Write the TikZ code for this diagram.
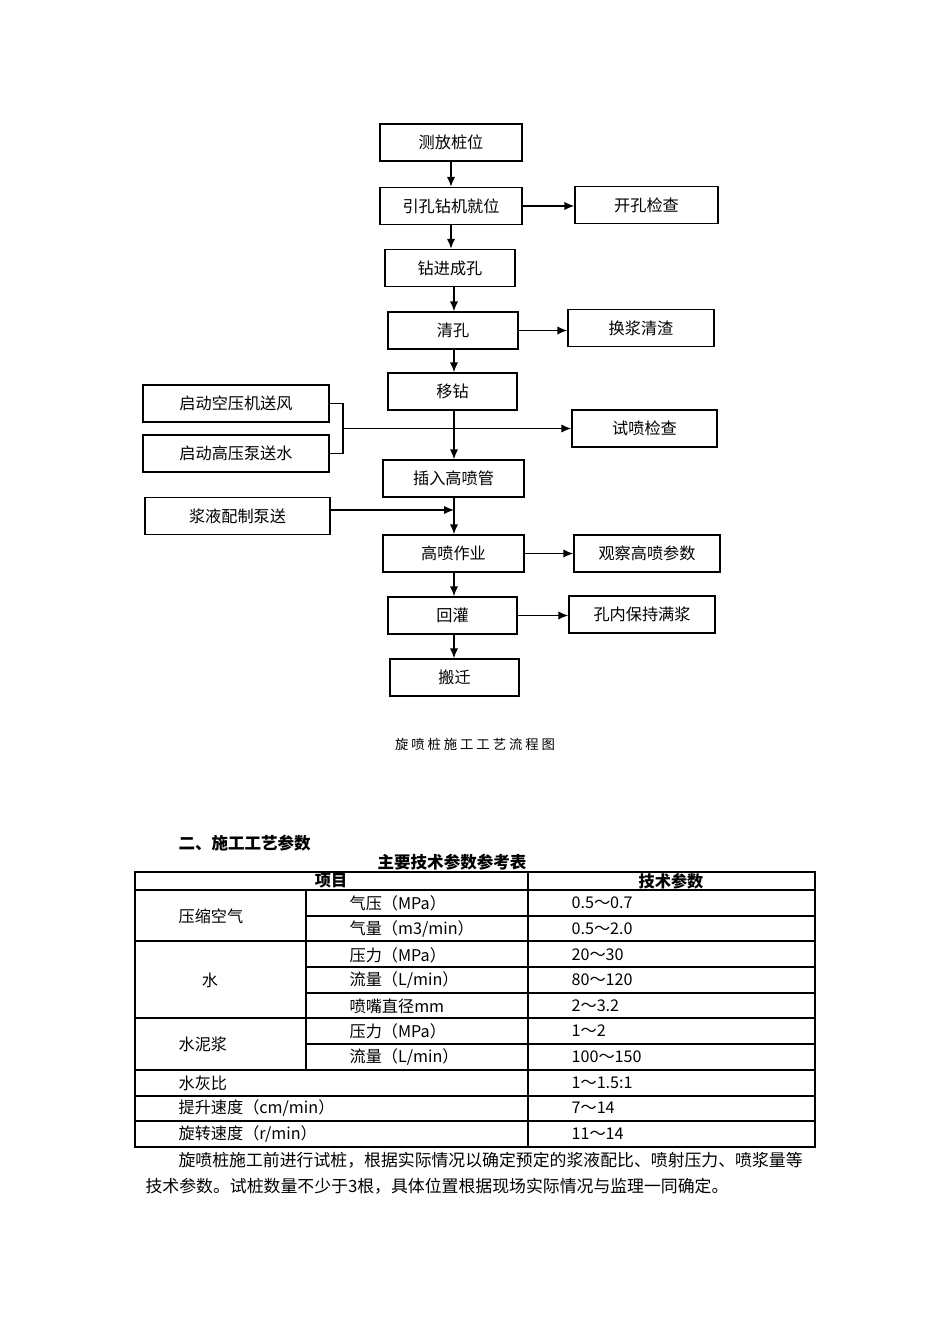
\documentclass[tikz,border=0pt]{standalone}
\usepackage{fontspec}
\setmainfont{Noto Sans CJK SC}
\newfontfamily\capfont[LetterSpace=22]{Noto Sans CJK SC}
\usetikzlibrary{positioning,arrows.meta}
\tikzset{
->, % makes the edges directed
>={Latex[length=5.6pt,width=4.6pt]}, % filled arrow heads
box/.style={draw, line width=0.8pt, inner sep=0pt, minimum height=0.74cm, font=\fontsize{9.2}{11}\selectfont}, % flow chart boxes
cell/.style={inner sep=0pt, anchor=west, font=\fontsize{9.2}{11}\selectfont}, % table texts
}

\begin{document}
\begin{tikzpicture}[-, x=0.02cm, y=-0.02cm, line width=0.7pt]
        \useasboundingbox (0,0) rectangle (950,1344);
        % main column
        \node[box, minimum width=2.84cm] at (451,142.5) (p1) {测放桩位};
        \node[box, minimum width=2.84cm] at (451,206) (p2) {引孔钻机就位};
        \node[box, minimum width=2.6cm] at (450,268) (p3) {钻进成孔};
        \node[box, minimum width=2.6cm] at (453,330.5) (p4) {清孔};
        \node[box, minimum width=2.58cm] at (452.5,391.5) (p5) {移钻};
        \node[box, minimum width=2.82cm] at (453.5,478.5) (p6) {插入高喷管};
        \node[box, minimum width=2.82cm] at (453.5,553.5) (p7) {高喷作业};
        \node[box, minimum width=2.58cm] at (452.5,615.5) (p8) {回灌};
        \node[box, minimum width=2.58cm] at (454.5,677.5) (p9) {搬迁};
        % right side
        \node[box, minimum width=2.86cm] at (646.5,205) (s1) {开孔检查};
        \node[box, minimum width=2.92cm] at (641,328) (s2) {换浆清渣};
        \node[box, minimum width=2.9cm] at (644.5,428.5) (s3) {试喷检查};
        \node[box, minimum width=2.92cm] at (647,553.5) (s4) {观察高喷参数};
        \node[box, minimum width=2.92cm] at (642,614.5) (s5) {孔内保持满浆};
        % left side
        \node[box, minimum width=3.72cm] at (236,403.5) (l1) {启动空压机送风};
        \node[box, minimum width=3.72cm] at (236,453.5) (l2) {启动高压泵送水};
        \node[box, minimum width=3.7cm] at (237.5,516) (l3) {浆液配制泵送};
        \coordinate (axis) at (454,0);
        \coordinate (brk) at (343,428.5);
        \coordinate (inj) at (454,510);
        \draw[->] (p1.south) -- (p1.south |- p2.north);
        \draw[->] (p2.south) -- (p2.south |- p3.north);
        \draw[->] (p3.south -| axis) -- (p4.north -| axis);
        \draw[->] (p4.south -| axis) -- (p5.north -| axis);
        \draw[->] (p5.south -| axis) -- (p6.north -| axis);
        \draw[->] (p6.south -| axis) -- (p7.north -| axis);
        \draw[->] (p7.south -| axis) -- (p8.north -| axis);
        \draw[->] (p8.south -| axis) -- (p9.north -| axis);
        \draw[->] (p2.east) -- (p2.east -| s1.west);
        \draw[->] (p4.east) -- (p4.east -| s2.west);
        \draw[->] (p7.east) -- (p7.east -| s4.west);
        \draw[->] (p8.east) -- (p8.east -| s5.west);
        \draw (l1.east) -| (brk) |- (l2.east);
        \draw[->] (brk) -- (s3.west);
        \draw[->] (l3.east |- inj) -- (inj);
        \node[font=\capfont\fontsize{7.6}{9}\selectfont] at (475,744) (cap) {旋喷桩施工工艺流程图};

        % parameters table
        \node[cell, font=\bfseries\fontsize{9.4}{11}\selectfont] at (178,843) (sec) {二、施工工艺参数};
        \node[inner sep=0pt, font=\bfseries\fontsize{9.4}{11}\selectfont] at (452,862) (ttl) {主要技术参数参考表};
        \begin{scope}[line width=0.6pt]
        \draw (135,872) rectangle (815,1147);
        \foreach \y in {890,941,1018,1070,1096,1121} \draw (135,\y) -- (815,\y);
        \foreach \y in {916,967,993,1044} \draw (306,\y) -- (815,\y);
        \draw (528,872) -- (528,1147);
        \draw (306,890) -- (306,1070);
        \end{scope}
        \node[inner sep=0pt, font=\bfseries\fontsize{9.2}{11}\selectfont] at (331,881) (h1) {项目};
        \node[inner sep=0pt, font=\bfseries\fontsize{9.2}{11}\selectfont] at (671,881) (h2) {技术参数};
        \node[cell] at (178,916) (a1) {压缩空气};
        \node[cell, anchor=center] at (210,980) (a2) {水};
        \node[cell] at (178,1044) (a3) {水泥浆};
        \node[cell] at (178,1083) (a4) {水灰比};
        \node[cell] at (178,1108) (a5) {提升速度（cm/min）};
        \node[cell] at (178,1134) (a6) {旋转速度（r/min）};
        \node[cell] at (349,903) (b1) {气压（MPa）};
        \node[cell] at (349,929) (b2) {气量（m3/min）};
        \node[cell] at (349,955) (b3) {压力（MPa）};
        \node[cell] at (349,980) (b4) {流量（L/min）};
        \node[cell] at (349,1006) (b5) {喷嘴直径mm};
        \node[cell] at (349,1031) (b6) {压力（MPa）};
        \node[cell] at (349,1057) (b7) {流量（L/min）};
        \node[cell] at (571,903) (c1) {0.5～0.7};
        \node[cell] at (571,929) (c2) {0.5～2.0};
        \node[cell] at (571,955) (c3) {20～30};
        \node[cell] at (571,980) (c4) {80～120};
        \node[cell] at (571,1006) (c5) {2～3.2};
        \node[cell] at (571,1031) (c6) {1～2};
        \node[cell] at (571,1057) (c7) {100～150};
        \node[cell] at (571,1083) (c8) {1～1.5:1};
        \node[cell] at (571,1108) (c9) {7～14};
        \node[cell] at (571,1134) (c10) {11～14};
        \node[cell, font=\fontsize{9.6}{11}\selectfont] at (178,1160) (t1) {旋喷桩施工前进行试桩，根据实际情况以确定预定的浆液配比、喷射压力、喷浆量等};
        \node[cell, font=\fontsize{9.6}{11}\selectfont] at (145,1186) (t2) {技术参数。试桩数量不少于3根，具体位置根据现场实际情况与监理一同确定。};
\end{tikzpicture}
\end{document}
